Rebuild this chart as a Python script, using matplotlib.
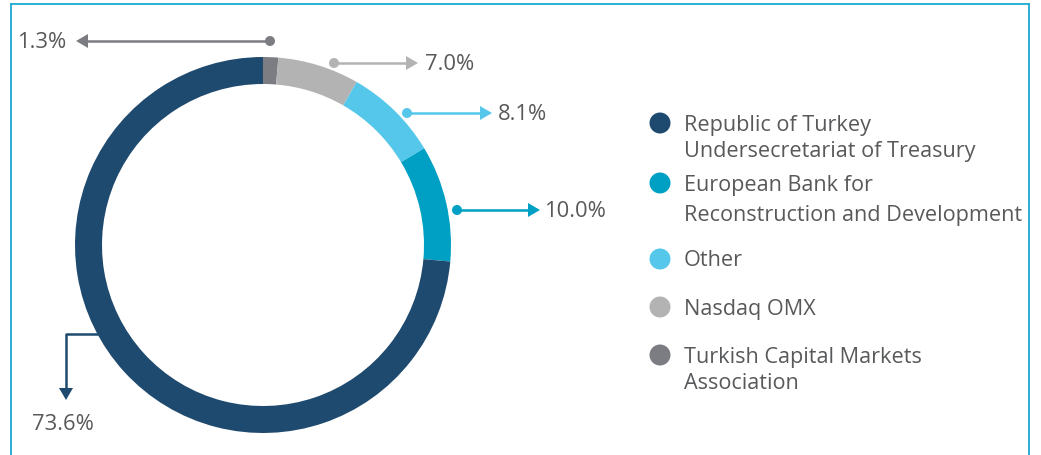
import matplotlib
matplotlib.use("Agg")
import matplotlib.pyplot as plt
from matplotlib.patches import Polygon, Circle
from matplotlib.lines import Line2D

# shares, in the order they sit on the ring (clockwise from 12 o'clock)
labels = ["Turkish Capital Markets\nAssociation", "Nasdaq OMX", "Other",
          "European Bank for\nReconstruction and Development",
          "Republic of Turkey\nUndersecretariat of Treasury"]
shares = [1.3, 7.0, 8.1, 10.0, 73.6]
colors = ["#7c7d82", "#b3b3b3", "#55c7ea", "#00a0c4", "#1f4a6f"]

# legend order (top to bottom) as indexes into the lists above
legend_order = [4, 3, 2, 1, 0]

W, H = 1041, 455
TXT = "#58595b"
FONT = "Open Sans"

fig = plt.figure(figsize=(W / 100, H / 100), dpi=100)
ax = fig.add_axes([0, 0, 1, 1])


def py(y):
    # picture rows are counted from the top
    return H - y


# ring
cx, cy, r = 263, py(245), 188
ax.pie(shares, colors=colors, startangle=90, counterclock=False,
       radius=r, center=(cx, cy), frame=True,
       wedgeprops=dict(width=27, linewidth=0))
ax.set_xlim(0, W)
ax.set_ylim(0, H)
ax.set_aspect("equal")
ax.axis("off")

# frame around the panel
for xs, ys in [([11, 11], [py(4), -5]), ([11, 1029], [py(4), py(4)]),
               ([1029, 1029], [py(4), -5])]:
    ax.add_line(Line2D(xs, ys, color="#1aa9cf", lw=1.3))


def arrow_h(x0, x1, y, col):
    # dot at x0, line, arrow head pointing to x1
    d = 1 if x1 > x0 else -1
    ax.add_patch(Circle((x0, py(y)), 5, color=col, lw=0, zorder=3))
    ax.add_line(Line2D([x0, x1 - d * 10], [py(y), py(y)], color=col, lw=1.8))
    ax.add_patch(Polygon([(x1, py(y)), (x1 - d * 12, py(y) + 7),
                          (x1 - d * 12, py(y) - 7)], closed=True,
                         color=col, lw=0))


def pct(i):
    return f"{shares[i]:.1f}%"


# call-outs: (index, dot x, arrow tip x, row, text x, text align)
callouts = [(0, 270, 76, 41, 66, "right"),
            (1, 334, 418, 63, 425, "left"),
            (2, 407, 492, 113, 498, "left"),
            (3, 457, 540, 210, 544, "left")]
for i, x0, x1, y, tx, ha in callouts:
    arrow_h(x0, x1, y, colors[i])
    ax.text(tx, py(y + 1.5), pct(i), ha=ha, va="center", fontsize=15.8,
            color=TXT, family=FONT)

# elbow call-out for the big share
c = colors[4]
ax.add_line(Line2D([97, 66, 66], [py(334), py(334), py(390)], color=c, lw=1.8))
ax.add_patch(Polygon([(66, py(400)), (59, py(388)), (73, py(388))],
                     closed=True, color=c, lw=0))
ax.text(63, py(425), pct(4), ha="center", va="center", fontsize=15.8,
        color=TXT, family=FONT)

# legend
rows = [125, 185, 261, 309, 357]
for i, y in zip(legend_order, rows):
    ax.add_patch(Circle((660, py(y - 2)), 10.5, color=colors[i], lw=0))
    gap = 30 if i == 3 else 26.5
    for k, line in enumerate(labels[i].split("\n")):
        ax.text(684, py(y + k * gap), line, ha="left", va="center",
                fontsize=15.6, color=TXT, family=FONT)

fig.savefig("out.png", dpi=100, facecolor="white")
